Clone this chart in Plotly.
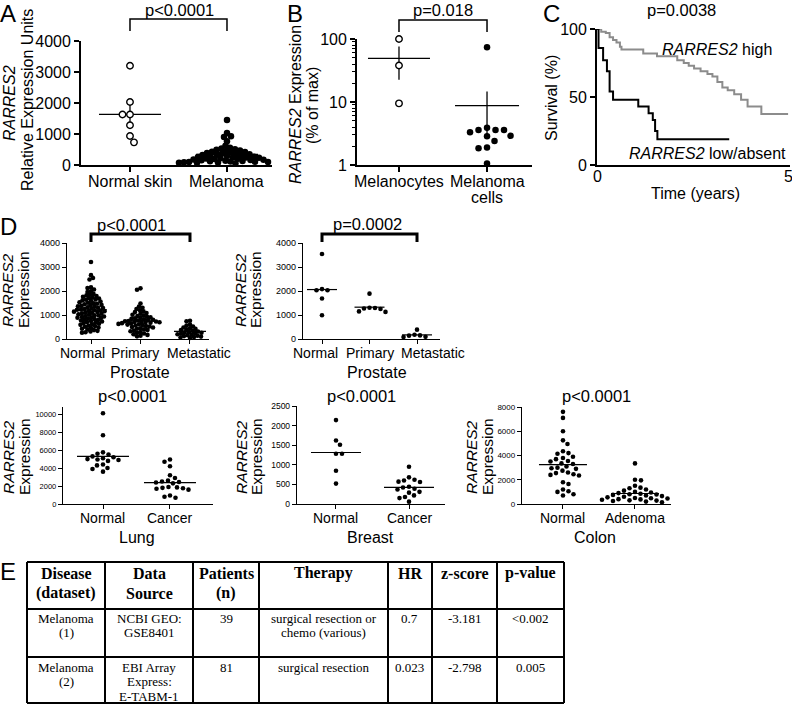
import numpy as np
import plotly.graph_objects as go

W, H = 792, 705
SANS = "Liberation Sans, Arial, Helvetica, sans-serif"
SERIF = "Liberation Serif, Times New Roman, serif"

# ---------------- DATA ----------------
A_categories = ["Normal skin", "Melanoma"]
A_normal_skin = [3200, 2030, 1630, 1630, 1280, 935, 730]
A_melanoma = [1450, 1030, 930, 900, 770, 620, 560, 530, 510, 490, 470, 450, 430, 420,
              400, 390, 370, 360, 350, 330, 320, 310, 290, 280, 270, 260, 250, 240,
              230, 220, 210, 200, 190, 180, 170, 160, 150, 140, 130, 120, 110, 105,
              100, 95, 90, 85, 80, 75, 70, 60]
A_yticks = [0, 1000, 2000, 3000, 4000]
A_p = "p<0.0001"

B_categories = ["Melanocytes", "Melanoma\ncells"]
B_melanocytes = [100, 38, 9.5]
B_melanoma_cells = [74, 3.9, 3.6, 3.6, 3.6, 3.3, 2.9, 2.85, 2.4, 1.9, 1.85, 1.06]
B_yticks = [1, 10, 100]
B_p = "p=0.018"

C_time_high = [0, 0.11, 0.23, 0.33, 0.42, 0.51, 0.6, 0.64, 1.21, 1.57, 2.1, 2.27, 2.4,
               2.54, 2.71, 2.89, 3.02, 3.15, 3.28, 3.42, 3.59, 3.77, 3.94, 4.3, 5.0]
C_surv_high = [100, 98, 97, 94, 92, 90, 87, 85, 82, 80, 77, 75, 73,
               71, 69, 67, 65, 61, 57, 55, 52, 48, 43, 37.5, 37.5]
C_time_low = [0, 0.04, 0.16, 0.26, 0.33, 0.42, 1.08, 1.35, 1.46, 1.52, 1.58, 3.46]
C_surv_low = [100, 86, 77, 69, 54, 48, 43, 38, 33, 25, 19, 19]
C_xticks = [0, 5]
C_yticks = [0, 50, 100]
C_p = "p=0.0038"
C_label_high = "<i>RARRES2</i> high"
C_label_low = "<i>RARRES2</i> low/absent"

D_categories = ["Normal", "Primary", "Metastatic"]
D1_normal = [3210, 2660, 2540, 2480, 2150, 2120, 2060, 1990, 1960, 1880, 1850, 1820, 1790,
             1760, 1740, 1710, 1690, 1650, 1640, 1610, 1590, 1560, 1530, 1510, 1490, 1470,
             1450, 1420, 1410, 1380, 1360, 1350, 1320, 1300, 1290, 1270, 1250, 1230, 1220,
             1200, 1190, 1170, 1160, 1140, 1120, 1110, 1090, 1070, 1050, 1030, 1010, 990,
             980, 960, 940, 920, 900, 890, 870, 850, 830, 810, 790, 770, 750, 730, 710,
             690, 660, 640, 610, 590, 560, 540, 510, 480, 460, 430, 400, 370, 340, 310,
             280, 260]
D1_primary = [2110, 2050, 1480, 1350, 1300, 1250, 1200, 1150, 1120, 1080, 1050, 1010, 980,
              960, 930, 900, 880, 860, 840, 820, 800, 790, 770, 750, 740, 730, 720, 710,
              700, 690, 680, 660, 650, 630, 610, 600, 580, 560, 540, 520, 500, 480, 450,
              430, 400, 380, 350, 320, 290, 260, 230, 200, 170, 140, 110]
D1_metastatic = [760, 740, 600, 560, 520, 480, 450, 420, 400, 370, 340, 310, 290, 280, 260,
                 240, 220, 200, 180, 160, 140, 120, 100, 80, 60, 40]
D1_p = "p<0.0001"
D2_normal = [3540, 2080, 2030, 2030, 1690, 990]
D2_primary = [1890, 1300, 1290, 1270, 1250, 1150, 1130]
D2_metastatic = [390, 180, 150, 140, 90, 80]
D2_p = "p=0.0002"
D_yticks = [0, 1000, 2000, 3000, 4000]
D_group = "Prostate"

Lung_categories = ["Normal", "Cancer"]
Lung_normal = [10100, 7650, 5750, 5600, 5500, 5300, 5200, 5100, 5000, 4950, 4900, 4800,
               4400, 4300, 4000, 3900, 3600]
Lung_cancer = [4950, 4700, 4200, 3200, 2900, 2600, 2500, 2450, 2400, 2300, 1900, 1850,
               1800, 1750, 1700, 1600, 950, 800, 700]
Lung_yticks = [0, 2000, 4000, 6000, 8000, 10000]

Breast_categories = ["Normal", "Cancer"]
Breast_normal = [2140, 1620, 1510, 1280, 1280, 850, 520]
Breast_cancer = [950, 680, 620, 600, 570, 560, 440, 420, 390, 370, 310, 290, 220, 180,
                 150, 60]
Breast_yticks = [0, 500, 1000, 1500, 2000, 2500]

Colon_categories = ["Normal", "Adenoma"]
Colon_normal = [7600, 7100, 6000, 5250, 4950, 4350, 4200, 4150, 3900, 3800, 3700, 3550,
                3500, 3350, 3300, 3100, 3000, 2950, 2900, 2750, 2600, 2550, 2450, 2400,
                2350, 1800, 1650, 1200, 1050, 1000, 800, 700]
Colon_adenoma = [3350, 2000, 1950, 1500, 1350, 1300, 1200, 1100, 1000, 950, 900, 850, 800,
                 780, 750, 700, 650, 600, 550, 500, 480, 450, 400, 380, 350, 300, 280,
                 250, 200, 150]
Colon_yticks = [0, 2000, 4000, 6000, 8000]
Row3_p = "p<0.0001"

TABLE_HEADER = ["Disease\n(dataset)", "Data\nSource", "Patients\n(n)", "Therapy", "HR",
                "z-score", "p-value"]
TABLE_ROW1 = ["Melanoma\n(1)", "NCBI GEO:\nGSE8401", "39", "surgical resection or\nchemo (various)",
              "0.7", "-3.181", "<0.002"]
TABLE_ROW2 = ["Melanoma\n(2)", "EBI Array\nExpress:\nE-TABM-1", "81", "surgical resection",
              "0.023", "-2.798", "0.005"]

# ---------------- LAYOUT CONSTANTS ----------------
def px_x(px):
    return px / W


def px_y(py):
    return 1 - py / H


def esc(t):
    return t.replace("<", "&lt;")


PANELS = {
    "A": dict(n=1, x=(81, 272), y=(41, 165), xr=(-0.505, 1.464), yr=(0, 4000)),
    "B": dict(n=2, x=(357, 532), y=(39, 165), xr=(-0.477, 1.511), yr=(0, 2), log=True),
    "C": dict(n=3, x=(597, 790), y=(29, 165), xr=(0, 5.05), yr=(0, 100)),
    "D1": dict(n=4, x=(67, 209), y=(243, 339), xr=(-0.485, 2.384), yr=(0, 4000)),
    "D2": dict(n=5, x=(303, 440), y=(243, 339), xr=(-0.4, 2.484), yr=(0, 4000)),
    "Lung": dict(n=6, x=(63, 213), y=(407, 504), xr=(-0.597, 1.642), yr=(0, 10800)),
    "Breast": dict(n=7, x=(297, 445), y=(406, 504), xr=(-0.534, 1.493), yr=(0, 2500)),
    "Colon": dict(n=8, x=(522, 671), y=(407, 504), xr=(-0.569, 1.5), yr=(0, 8000)),
}


def ids(p):
    n = p["n"]
    return ("x" if n == 1 else f"x{n}"), ("y" if n == 1 else f"y{n}")


def scale(p):
    sx = (p["x"][1] - p["x"][0]) / (p["xr"][1] - p["xr"][0])
    sy = (p["y"][1] - p["y"][0]) / (p["yr"][1] - p["yr"][0])
    return sx, sy


def cat_px(p, ci):
    sx, _ = scale(p)
    return p["x"][0] + (ci - p["xr"][0]) * sx


def swarm(values, p, dist, step=0.5):
    sx, sy = scale(p)
    log = p.get("log", False)
    ys = [(np.log10(v) if log else v) * sy for v in values]
    order = sorted(range(len(values)), key=lambda i: -values[i])
    placed = []
    offs = [0.0] * len(values)
    for j, i in enumerate(order):
        y = ys[i]
        k = 0
        found = None
        while found is None:
            if k == 0:
                cands = [0.0]
            else:
                cands = [k * step, -k * step] if j % 2 == 0 else [-k * step, k * step]
            for c in cands:
                if all((c - a) ** 2 + (y - b) ** 2 >= dist ** 2 for a, b in placed):
                    found = c
                    break
            k += 1
        placed.append((found, y))
        offs[i] = found / sx
    return offs


fig = go.Figure()


def dot_group(pname, ci, values, size, dist, open_=False, half_px=25, sem=False, lw=1.3):
    p = PANELS[pname]
    xa, ya = ids(p)
    sx, sy = scale(p)
    offs = swarm(values, p, dist)
    xs = [ci + o for o in offs]
    mean = float(np.mean(values))
    hw = half_px / sx
    line_tr = [go.Scatter(x=[ci - hw, ci + hw], y=[mean, mean], mode="lines", xaxis=xa, yaxis=ya,
                          line=dict(color="black", width=lw), hoverinfo="skip", cliponaxis=False)]
    if sem:
        se = float(np.std(values, ddof=1) / np.sqrt(len(values)))
        line_tr.append(go.Scatter(x=[ci, ci], y=[mean - se, mean + se], mode="lines", xaxis=xa,
                                  yaxis=ya, line=dict(color="black", width=lw), hoverinfo="skip",
                                  cliponaxis=False))
    if open_:
        marker = dict(symbol="circle", size=size, color="white", line=dict(color="black", width=1.4))
    else:
        marker = dict(symbol="circle", size=size, color="black", line=dict(width=0))
    mk = go.Scatter(x=xs, y=values, mode="markers", xaxis=xa, yaxis=ya, marker=marker,
                    cliponaxis=False)
    if open_:
        for t in line_tr:
            fig.add_trace(t)
        fig.add_trace(mk)
    else:
        fig.add_trace(mk)
        for t in line_tr:
            fig.add_trace(t)


# Panel A
dot_group("A", 0, A_normal_skin, 6.5, 7.5, open_=True, half_px=31, sem=True)
dot_group("A", 1, A_melanoma, 6.5, 4.8, half_px=31)
# Panel B
dot_group("B", 0, B_melanocytes, 6.5, 7, open_=True, half_px=31, sem=True)
dot_group("B", 1, B_melanoma_cells, 6.5, 8.5, half_px=32, sem=True)
# Panel C
pc = PANELS["C"]
xa, ya = ids(pc)
fig.add_trace(go.Scatter(x=C_time_high, y=C_surv_high, mode="lines", line_shape="hv",
                         xaxis=xa, yaxis=ya, line=dict(color="#8c8c8c", width=2)))
fig.add_trace(go.Scatter(x=C_time_low, y=C_surv_low, mode="lines", line_shape="hv",
                         xaxis=xa, yaxis=ya, line=dict(color="black", width=2)))
# Panel D
for ci, vals in enumerate([D1_normal, D1_primary, D1_metastatic]):
    dot_group("D1", ci, vals, 4.6, 3.4, half_px=16, lw=1.2)
for ci, vals in enumerate([D2_normal, D2_primary, D2_metastatic]):
    dot_group("D2", ci, vals, 4.6, 5.5, half_px=15, lw=1.2)
for ci, vals in enumerate([Lung_normal, Lung_cancer]):
    dot_group("Lung", ci, vals, 4.6, 5.6, half_px=26, lw=1.2)
for ci, vals in enumerate([Breast_normal, Breast_cancer]):
    dot_group("Breast", ci, vals, 4.6, 5.6, half_px=25, lw=1.2)
for ci, vals in enumerate([Colon_normal, Colon_adenoma]):
    dot_group("Colon", ci, vals, 4.6, 5.6, half_px=24, lw=1.2)


# ---------------- AXES ----------------
def make_axes(pname, ncat, yticks, ytick_font, lw=1.6, ticklen=5, xtickvals=None,
              log=False, xticks="outside"):
    p = PANELS[pname]
    xa, ya = ids(p)
    n = p["n"]
    kx = "xaxis" if n == 1 else f"xaxis{n}"
    ky = "yaxis" if n == 1 else f"yaxis{n}"
    common = dict(showline=True, linecolor="black", linewidth=lw, tickcolor="black",
                  tickwidth=lw, showgrid=False, zeroline=False, fixedrange=True, tickangle=0)
    tv = xtickvals if xtickvals is not None else list(range(ncat))
    xd = dict(common, domain=[px_x(p["x"][0]), px_x(p["x"][1])], range=list(p["xr"]),
              anchor=ya, ticks=xticks, ticklen=ticklen, tickvals=tv,
              ticktext=[""] * len(tv))
    yd = dict(common, domain=[px_y(p["y"][1]), px_y(p["y"][0])], range=list(p["yr"]),
              anchor=xa, ticks="outside", ticklen=ticklen, tickvals=yticks,
              ticktext=[str(v) for v in yticks],
              tickfont=dict(family=SANS, size=ytick_font, color="black"))
    if log:
        yd["type"] = "log"
        minor_vals = [m * d for d in (1, 10) for m in range(2, 10)]
        yd["minor"] = dict(tickvals=minor_vals, ticks="outside", ticklen=3, tickwidth=1,
                           tickcolor="black")
    return {kx: xd, ky: yd}


layout_axes = {}
layout_axes.update(make_axes("A", 2, A_yticks, 16, lw=1.8))
layout_axes.update(make_axes("B", 2, B_yticks, 16, lw=1.8, log=True))
layout_axes.update(make_axes("C", 2, C_yticks, 16, lw=1.8, xtickvals=C_xticks, xticks=""))
layout_axes.update(make_axes("D1", 3, D_yticks, 9, lw=1.4, ticklen=4))
layout_axes.update(make_axes("D2", 3, D_yticks, 9, lw=1.4, ticklen=4))
layout_axes.update(make_axes("Lung", 2, Lung_yticks, 7.5, lw=1.4, ticklen=4))
layout_axes.update(make_axes("Breast", 2, Breast_yticks, 8.5, lw=1.4, ticklen=4))
layout_axes.update(make_axes("Colon", 2, Colon_yticks, 8, lw=1.4, ticklen=4))

annotations = []
shapes = []


def text(t, xpx, ypx, size, angle=0, family=SANS, bold=False, xanchor="center"):
    if bold:
        t = f"<b>{t}</b>"
    annotations.append(dict(text=t, x=px_x(xpx), y=px_y(ypx), xref="paper", yref="paper",
                            xanchor=xanchor, yanchor="middle", showarrow=False, textangle=angle,
                            font=dict(family=family, size=size, color="black")))


# panel letters
for letter, (lx, ly) in {"A": (8, 13), "B": (295, 13), "C": (551, 13), "D": (8, 226),
                         "E": (8, 571)}.items():
    text(letter, lx, ly, 24)

# p-values
text(esc(A_p), 179, 10, 16.5)
text(esc(B_p), 443, 10, 16.5)
text(esc(C_p), 681, 10, 16.5)
text(esc(D1_p), 131, 225, 16.5)
text(esc(D2_p), 367, 224, 16.5)
for xp in (132, 361, 596):
    text(esc(Row3_p), xp, 396, 16.5)

# y titles
text("<i>RARRES2</i>", 10, 103, 16, angle=-90)
text("Relative Expression Units", 28, 100, 16, angle=-90)
text("<i>RARRES2</i> Expression", 295, 105, 16, angle=-90)
text("(% of max)", 312, 106, 16, angle=-90)
text("Survival (%)", 552, 98, 16, angle=-90)
for (x1, x2, yc) in [(8, 24, 290), (241, 256, 290), (8, 24, 457), (241, 256, 457),
                     (471, 487, 457)]:
    text("<i>RARRES2</i>", x1, yc, 15.5, angle=-90)
    text("Expression", x2, yc, 15.5, angle=-90)

# x category labels
for ci, lab in enumerate(A_categories):
    text(lab, cat_px(PANELS["A"], ci), 182, 16)
for ci, lab in enumerate(B_categories):
    for li, part in enumerate(lab.split("\n")):
        text(part, cat_px(PANELS["B"], ci), 182 + 16 * li, 16)
for v in C_xticks:
    text(str(v), cat_px(PANELS["C"], v), 176, 16)
# D category labels (shifted apart as in the original)
for lab, xc in zip(D_categories, (82, 135, 199)):
    text(lab, xc, 353, 14)
for lab, xc in zip(D_categories, (315, 370, 433)):
    text(lab, xc, 353, 14)
for pname, cats in (("Lung", Lung_categories), ("Breast", Breast_categories),
                    ("Colon", Colon_categories)):
    for ci, lab in enumerate(cats):
        text(lab, cat_px(PANELS[pname], ci), 518, 14)

# C labels
text(C_label_high, 717, 50, 16)
text(C_label_low, 707, 153, 16)
text("Time (years)", 695, 193, 16)

# group names
text(D_group, 140, 372, 16)
text(D_group, 377, 372, 16)
text("Lung", 137, 537, 16)
text("Breast", 370, 537, 16)
text("Colon", 595, 537, 16)


# brackets
def bracket(pname, c0, c1, top, bottom, lw):
    xa, _ = ids(PANELS[pname])
    yt, yb = px_y(top), px_y(bottom)
    shapes.append(dict(type="path", xref=xa, yref="paper",
                       path=f"M {c0},{yb} L {c0},{yt} L {c1},{yt} L {c1},{yb}",
                       line=dict(color="black", width=lw)))


bracket("A", 0, 1, 19, 31, 1.5)
bracket("B", 0, 1, 20, 32, 1.5)
bracket("D1", 0, 2, 234, 242, 3)
bracket("D2", 0, 2, 234, 242, 3)

# table
TABLE_COL_EDGES = [27, 105, 193, 259, 388, 432, 497, 564]
TABLE_ROW_EDGES = [562, 609, 657, 703]
for yy in TABLE_ROW_EDGES:
    shapes.append(dict(type="line", xref="paper", yref="paper", x0=px_x(TABLE_COL_EDGES[0]),
                       x1=px_x(TABLE_COL_EDGES[-1]), y0=px_y(yy), y1=px_y(yy),
                       line=dict(color="black", width=2)))
for xx in TABLE_COL_EDGES:
    shapes.append(dict(type="line", xref="paper", yref="paper", x0=px_x(xx), x1=px_x(xx),
                       y0=px_y(TABLE_ROW_EDGES[0]), y1=px_y(TABLE_ROW_EDGES[-1]),
                       line=dict(color="black", width=2)))

row_specs = [(TABLE_HEADER, 573, 20, 16, True), (TABLE_ROW1, 618, 14.5, 13, False),
             (TABLE_ROW2, 667, 14.5, 13, False)]
for cells, y0, sp, fs, bold in row_specs:
    for ci, cell in enumerate(cells):
        xc = (TABLE_COL_EDGES[ci] + TABLE_COL_EDGES[ci + 1]) / 2
        for li, line in enumerate(cell.split("\n")):
            text(esc(line), xc, y0 + li * sp, fs, family=SERIF, bold=bold)

fig.update_layout(
    width=W, height=H, margin=dict(l=0, r=0, t=0, b=0, autoexpand=False),
    paper_bgcolor="white", plot_bgcolor="rgba(0,0,0,0)", showlegend=False,
    annotations=annotations, shapes=shapes, font=dict(family=SANS, color="black"),
    **layout_axes)

fig.write_html("out.html", config={"responsive": False, "displayModeBar": False},
               post_script="document.body.style.margin='0px';"
                           "document.body.style.overflow='hidden';")
